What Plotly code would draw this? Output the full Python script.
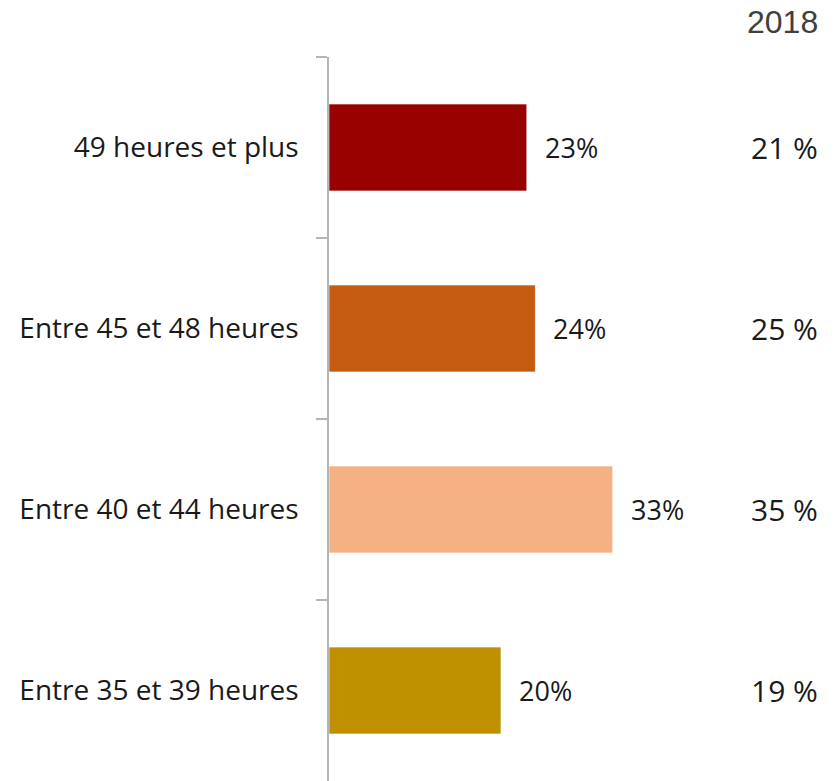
import plotly.graph_objects as go

# données
CATEGORIES = ["49 heures et plus", "Entre 45 et 48 heures", "Entre 40 et 44 heures", "Entre 35 et 39 heures"]
VALUES = [23, 24, 33, 20]
VALUES_2018 = [21, 25, 35, 19]
BAR_COLORS = ["#990000", "#C55A11", "#F4B183", "#BF9000"]
HEADER_2018 = "2018"

FONT = "'Open Sans', Lato, sans-serif"
TEXT_COLOR = "#1a1a1a"

fig = go.Figure()
fig.add_trace(go.Bar(
    x=VALUES,
    y=CATEGORIES,
    orientation="h",
    marker=dict(color=BAR_COLORS, line=dict(color="rgba(255,255,255,0.6)", width=1)),
    hoverinfo="skip",
))

# étiquettes de valeur à droite des barres
for cat, val in zip(CATEGORIES, VALUES):
    fig.add_annotation(
        x=val, y=cat, xref="x", yref="y",
        text=f"{val}%", showarrow=False,
        xanchor="left", xshift=16,
        font=dict(family=FONT, size=27, color=TEXT_COLOR),
    )

# colonne 2018
for cat, val in zip(CATEGORIES, VALUES_2018):
    fig.add_annotation(
        x=1, y=cat, xref="paper", yref="y",
        text=f"{val} %", showarrow=False,
        xanchor="right", xshift=-18,
        font=dict(family=FONT, size=30, color=TEXT_COLOR),
    )

fig.add_annotation(
    x=1, y=1, xref="paper", yref="paper",
    text=HEADER_2018, showarrow=False,
    xanchor="right", yanchor="middle", xshift=-18, yshift=35,
    font=dict(family="'Liberation Sans', Arial, sans-serif", size=32, color="#404040"),
)

# la page ajoute une marge de 8 px autour du graphique
fig.update_layout(
    width=838, height=781,
    margin=dict(l=321, r=8, t=49, b=8),
    plot_bgcolor="white", paper_bgcolor="white",
    bargap=0.52,
    showlegend=False,
    font=dict(family=FONT, size=28, color=TEXT_COLOR),
)
fig.update_xaxes(range=[0, 59.2], visible=False, fixedrange=True)
fig.update_yaxes(
    categoryorder="array", categoryarray=CATEGORIES, autorange="reversed",
    showline=True, linecolor="#B5B5B5", linewidth=1.5,
    ticks="outside", tickson="boundaries", ticklen=11, tickcolor="#B5B5B5", tickwidth=1.5,
    ticklabelstandoff=23,
    showgrid=False, zeroline=False, fixedrange=True,
)

fig.write_html("out.html")
